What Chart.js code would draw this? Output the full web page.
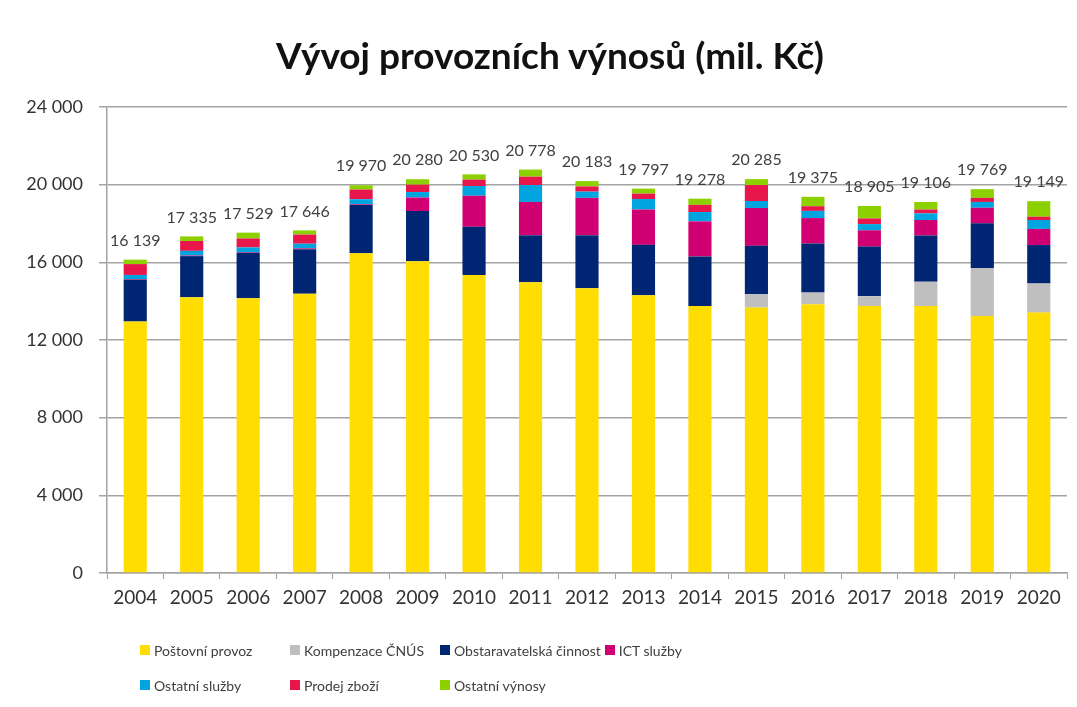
<!DOCTYPE html>
<html lang="cs">
<head>
<meta charset="utf-8">
<title>Vývoj provozních výnosů</title>
<script src="https://cdn.jsdelivr.net/npm/chart.js@4.4.1/dist/chart.umd.min.js"></script>
<style>
  body { margin: 0; background: #fff; font-family: Lato, "Open Sans", sans-serif; }
  #wrap { position: relative; width: 1077px; height: 707px; overflow: hidden; }
  #title {
    position: absolute; left: 0; top: 32px; width: 1100px; margin: 0;
    text-align: center; font: bold 37px Lato, sans-serif; color: #111;
  }
  #legend {
    position: absolute; left: 140px; top: 640px;
    display: grid; grid-template-columns: 146px 146px auto auto; column-gap: 4px; row-gap: 15px;
    font-size: 14px; color: #404040;
  }
  #legend div { display: flex; align-items: center; white-space: nowrap; height: 20px; }
  #legend span.box { flex-shrink: 0; width: 10px; height: 10px; margin-right: 4px; display: inline-block; }
</style>
</head>
<body>
<div id="wrap">
  <canvas id="chart" width="1077" height="707"></canvas>
  <h1 id="title">Vývoj provozních výnosů (mil. Kč)</h1>
  <div id="legend"></div>
</div>
<script>
const years = ["2004","2005","2006","2007","2008","2009","2010","2011","2012","2013","2014","2015","2016","2017","2018","2019","2020"];

// mil. Kč; each year sums to the total printed above the bar
const postovniProvoz = [12950,14200,14150,14380,16470,16050,15350,14980,14670,14300,13750,13670,13840,13750,13750,13240,13410];
const kompenzaceCNUS = [0,0,0,0,0,0,0,0,0,0,0,680,600,510,1250,2470,1500];
const obstaravatelska = [2150,2120,2350,2300,2480,2590,2480,2420,2730,2600,2550,2500,2530,2550,2380,2300,1980];
const ictSluzby = [30,30,30,40,40,700,1600,1710,1920,1820,1810,1950,1310,840,800,800,830];
const ostatniSluzby = [220,240,240,240,260,280,500,870,320,540,480,360,370,320,340,300,460];
const prodejZbozi = [560,510,460,470,500,380,330,430,270,280,370,820,240,290,200,210,170];
const ostatniVynosy = [229,235,299,216,220,280,270,368,273,257,318,305,485,645,386,449,799];

const yTicks = [0, 4000, 8000, 12000, 16000, 20000, 24000];

const series = [
  { label: "Poštovní provoz", data: postovniProvoz, color: "#FFDD00" },
  { label: "Kompenzace ČNÚS", data: kompenzaceCNUS, color: "#BFBFBF" },
  { label: "Obstaravatelská činnost", data: obstaravatelska, color: "#002673" },
  { label: "ICT služby", data: ictSluzby, color: "#D10072" },
  { label: "Ostatní služby", data: ostatniSluzby, color: "#00A5DF" },
  { label: "Prodej zboží", data: prodejZbozi, color: "#E8174B" },
  { label: "Ostatní výnosy", data: ostatniVynosy, color: "#8CD000" }
];

function fmt(n) {
  return String(Math.round(n)).replace(/\B(?=(\d{3})+(?!\d))/g, " ");
}

const totals = years.map((y, i) => series.reduce((s, d) => s + d.data[i], 0));

const gridColor = "#a3a3a3";
const textColor = "#333333";

// totals above each stacked bar
const totalLabels = {
  id: "totalLabels",
  afterDatasetsDraw(chart) {
    const ctx = chart.ctx;
    const yScale = chart.scales.y;
    const meta = chart.getDatasetMeta(0);
    ctx.save();
    ctx.font = "16px Lato, sans-serif";
    ctx.fillStyle = "#404040";
    ctx.textAlign = "center";
    ctx.textBaseline = "middle";
    totals.forEach((t, i) => {
      const x = meta.data[i].x;
      ctx.fillText(fmt(t), x, yScale.getPixelForValue(t) - 19);
    });
    ctx.restore();
  }
};

const chart = new Chart(document.getElementById("chart"), {
  type: "bar",
  data: {
    labels: years,
    datasets: series.map(s => ({
      label: s.label,
      data: s.data,
      backgroundColor: s.color,
      borderWidth: 0,
      barPercentage: 0.41,
      categoryPercentage: 1
    }))
  },
  options: {
    responsive: false,
    animation: false,
    layout: { padding: { top: 107, left: 0, right: 10, bottom: 94 } },
    plugins: {
      legend: { display: false },
      title: { display: false },
      tooltip: { enabled: false }
    },
    scales: {
      x: {
        stacked: true,
        grid: { drawOnChartArea: false, drawTicks: true, tickLength: 6, color: gridColor, offset: true },
        border: { color: gridColor, width: 1.5 },
        ticks: { color: textColor, font: { size: 19, family: "Lato" }, padding: 7, maxRotation: 0 },
        afterFit: s => { s.height = 40; }
      },
      y: {
        stacked: true,
        min: 0,
        max: 24000,
        afterBuildTicks: s => { s.ticks = yTicks.map(v => ({ value: v })); },
        grid: { color: gridColor, lineWidth: 1.5, tickLength: 8 },
        border: { color: gridColor, width: 1.5 },
        ticks: { color: textColor, font: { size: 18, family: "Lato" }, padding: 16, callback: v => fmt(v) },
        afterFit: s => { s.width = 107; }
      }
    }
  },
  plugins: [totalLabels]
});

// legend in a fixed grid like the original
const legend = document.getElementById("legend");
chart.data.datasets.forEach(ds => {
  const item = document.createElement("div");
  item.innerHTML = `<span class="box" style="background:${ds.backgroundColor}"></span>${ds.label}`;
  legend.appendChild(item);
});
</script>
</body>
</html>
